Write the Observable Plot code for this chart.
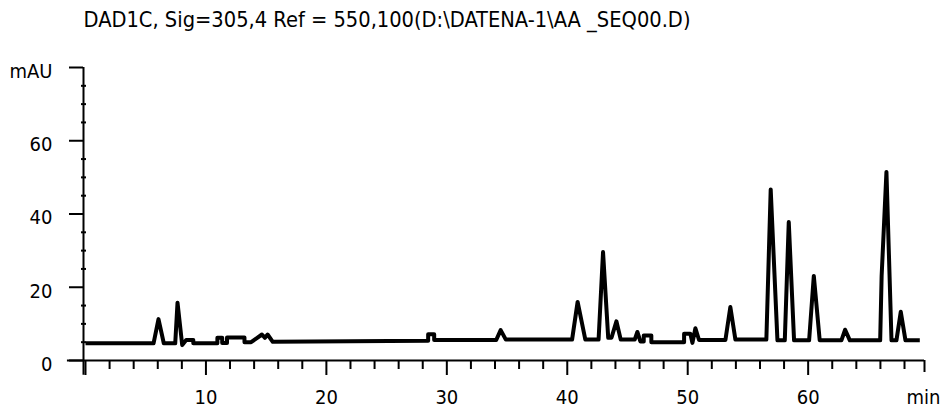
<!DOCTYPE html>
<html>
<head>
<meta charset="utf-8">
<script src="https://cdn.jsdelivr.net/npm/d3@7"></script>
<script src="https://cdn.jsdelivr.net/npm/@observablehq/plot@0.6"></script>
<style>
  html, body { margin: 0; padding: 0; background: #fff; }
  #chart svg { display: block; }
  #chart svg text { font-stretch: semi-condensed; }
</style>
</head>
<body>
<div id="chart"></div>
<script>
const title = "DAD1C, Sig=305,4 Ref = 550,100(D:\\DATENA-1\\AA _SEQ00.D)";

const timeMin = [0, 5.65, 6.06, 6.5, 7.45, 7.64, 8.03, 8.36, 8.95, 8.95,
  10.95, 10.95, 11.35, 11.35, 11.75, 11.75, 13.2, 13.2, 13.75, 14.65, 14.9, 15.12, 15.55,
  28.45, 28.45, 28.95, 28.95, 34.1, 34.47, 34.9, 40.4, 40.86, 41.5, 42.6, 42.97, 43.4,
  43.67, 44.08, 44.44, 45.6, 45.82, 46.07, 46.35, 46.35, 46.98, 46.98,
  49.7, 49.7, 50.22, 50.39, 50.64, 50.94, 53.13, 53.54, 53.96, 56.53, 56.89, 57.45,
  58.06, 58.39, 58.83, 60.08, 60.47, 60.96, 62.76, 63.07, 63.46,
  65.98, 66.1, 66.5, 66.92, 67.33, 67.69, 68.08, 69.27];

const signalMAU = [4.7, 4.7, 11.3, 4.7, 4.7, 15.8, 4.2, 5.6, 5.6, 4.7,
  4.7, 6.2, 6.2, 4.8, 4.8, 6.3, 6.3, 5.0, 5.0, 7.1, 6.2, 7.1, 5.1,
  5.4, 7.2, 7.2, 5.6, 5.6, 8.3, 5.7, 5.7, 16.0, 5.7, 5.7, 29.6, 6.2,
  6.2, 10.7, 5.7, 5.7, 7.8, 5.2, 5.2, 6.8, 6.8, 5.0,
  5.0, 7.3, 7.3, 4.8, 8.8, 5.6, 5.6, 14.6, 5.7, 5.7, 46.7, 5.5,
  5.5, 37.8, 5.5, 5.5, 23.1, 5.5, 5.5, 8.4, 5.5,
  5.5, 23.0, 51.5, 5.5, 5.5, 13.3, 5.5, 5.5];

const xEnd = 69.66;
const xMajorTicks = [0, 10, 20, 30, 40, 50, 60];
const xMinorTicks = [2,4,6,8,12,14,16,18,22,24,26,28,32,34,36,38,42,44,46,48,52,54,56,58,62,64,66,68];
const xTickValues = [10, 20, 30, 40, 50, 60];
const xTickLabels = ["10", "20", "30", "40", "50", "60"];
const xUnit = "min";

const yMajorTicks = [0, 20, 40, 60, 80];
const yTickLabels = ["0", "20", "40", "60", "mAU"];
const yMinorTicks = [5, 10, 15, 25, 30, 35, 45, 50, 55, 65, 70, 75];

const trace = timeMin.map((t, i) => ({t, v: signalMAU[i]}));
const yLabelRows = yMajorTicks.map((v, i) => ({v, label: yTickLabels[i]}));
const xLabelRows = xTickValues.map((v, i) => ({v, label: xTickLabels[i]}));

const FONT = "'DejaVu Sans', sans-serif";

const chart = Plot.plot({
  width: 944,
  height: 413,
  marginLeft: 85,
  marginRight: 20,
  marginTop: 67,
  marginBottom: 53,
  style: {fontFamily: FONT, fontSize: "20px", background: "#fff", color: "#000"},
  x: {domain: [0, xEnd], axis: null, label: null},
  y: {domain: [0, 80], axis: null, label: null},
  marks: [
    // axis lines
    Plot.ruleY([0], {x1: -1.5, x2: xEnd, stroke: "#000", strokeWidth: 2}),
    Plot.ruleX([0], {y1: -4, y2: 80, dx: -2, stroke: "#000", strokeWidth: 2}),
    // y ticks
    Plot.axisY({ticks: yMajorTicks, tickSize: 14, dx: -2, tickFormat: () => "", label: null, stroke: "#000", strokeWidth: 2}),
    Plot.axisY({ticks: yMinorTicks, tickSize: 5, dx: 1, tickFormat: () => "", label: null, stroke: "#000", strokeWidth: 2}),
    // x ticks
    Plot.axisX({ticks: xMajorTicks, tickSize: 15, tickFormat: () => "", label: null, stroke: "#000", strokeWidth: 2}),
    Plot.axisX({ticks: xMinorTicks, tickSize: 9, tickFormat: () => "", label: null, stroke: "#000", strokeWidth: 2}),
    Plot.axisX({ticks: [xEnd], tickSize: 12, tickFormat: () => "", label: null, stroke: "#000", strokeWidth: 2}),
    // y labels
    Plot.text(yLabelRows, {y: "v", text: "label", frameAnchor: "left", textAnchor: "end", dx: -33, dy: 4,
      fontSize: 20, fill: "#000", fontFamily: FONT}),
    // x labels
    Plot.text(xLabelRows, {x: "v", text: "label", frameAnchor: "bottom", lineAnchor: "middle", dy: 37,
      fontSize: 20, fill: "#000", fontFamily: FONT}),
    Plot.text([xUnit], {frameAnchor: "bottom-right", textAnchor: "end", lineAnchor: "middle", dx: 16, dy: 37,
      fontSize: 20, fill: "#000", fontFamily: FONT}),
    // title
    Plot.text([title], {frameAnchor: "top-left", textAnchor: "start", lineAnchor: "middle", dx: -2, dy: -47,
      fontSize: 21, fill: "#000", fontFamily: FONT, className: "chart-title"}),
    // trace
    Plot.line(trace, {x: "t", y: "v", stroke: "#000", strokeWidth: 4, strokeLinejoin: "round", strokeLinecap: "butt"})
  ]
});

document.getElementById("chart").appendChild(chart);
d3.select(chart).selectAll(".chart-title text")
  .attr("textLength", 607).attr("lengthAdjust", "spacingAndGlyphs");
</script>
</body>
</html>
